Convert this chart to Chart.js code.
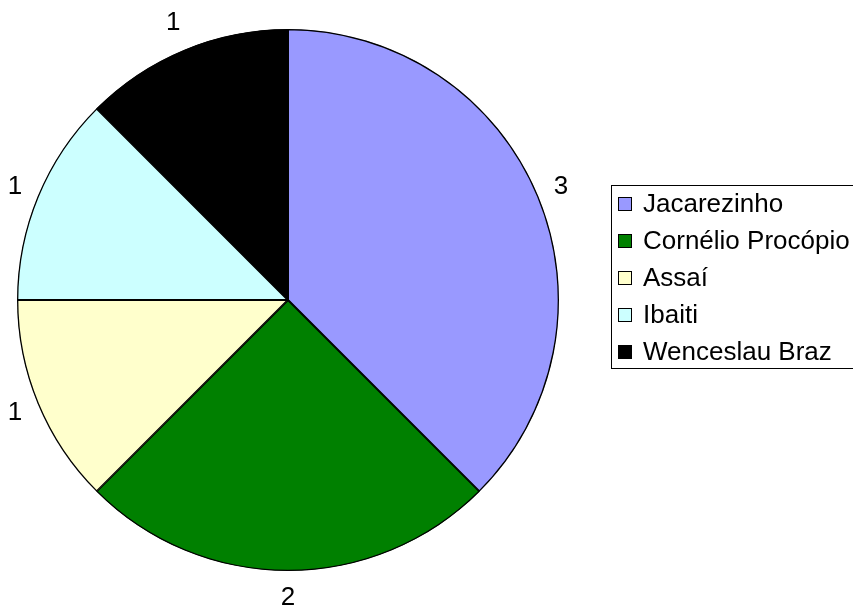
<!DOCTYPE html>
<html>
<head>
<meta charset="utf-8">
<script src="https://cdn.jsdelivr.net/npm/chart.js@4"></script>
<style>
html,body{margin:0;padding:0;background:#fff;}
canvas{display:block;}
</style>
</head>
<body>
<canvas id="c" width="853" height="612"></canvas>
<script>
const categories = ["Jacarezinho", "Cornélio Procópio", "Assaí", "Ibaiti", "Wenceslau Braz"];
const values = [3, 2, 1, 1, 1];
const colors = ["#9999FF", "#008000", "#FFFFCC", "#CCFFFF", "#000000"];

const FONT = '26px "Liberation Sans", Arial, sans-serif';

const outsideLabels = {
  id: 'outsideLabels',
  afterDatasetsDraw(chart) {
    const ctx = chart.ctx;
    const meta = chart.getDatasetMeta(0);
    ctx.save();
    ctx.font = FONT;
    ctx.fillStyle = '#000';
    ctx.textAlign = 'center';
    ctx.textBaseline = 'middle';
    meta.data.forEach((arc, i) => {
      const p = arc.getProps(['x','y','startAngle','endAngle','outerRadius'], true);
      const mid = (p.startAngle + p.endAngle) / 2;
      const txt = String(values[i]);
      const w = ctx.measureText(txt).width;
      const h = 30;
      const c = Math.cos(mid), s = Math.sin(mid);
      const d = p.outerRadius + 12 + Math.abs(c) * w / 2 + Math.abs(s) * h / 2;
      ctx.fillText(txt, p.x + c * d, p.y + s * d);
    });
    ctx.restore();
  }
};

const boxLegend = {
  id: 'boxLegend',
  afterDraw(chart) {
    const ctx = chart.ctx;
    ctx.save();
    const left = 611.5, top = 185.5, bottom = 368.5;
    ctx.strokeStyle = '#000';
    ctx.lineWidth = 1;
    ctx.strokeRect(left, top, 260, bottom - top);
    ctx.font = FONT;
    ctx.textBaseline = 'middle';
    ctx.textAlign = 'left';
    categories.forEach((name, i) => {
      const cy = 204 + i * 37;
      ctx.fillStyle = colors[i];
      ctx.fillRect(618, cy - 7, 14, 14);
      ctx.strokeStyle = '#000';
      ctx.strokeRect(618.5, cy - 6.5, 13, 13);
      ctx.fillStyle = '#000';
      ctx.fillText(name, 643, cy + 1);
    });
    ctx.restore();
  }
};

new Chart(document.getElementById('c'), {
  type: 'pie',
  data: {
    labels: categories,
    datasets: [{
      data: values,
      backgroundColor: colors,
      borderColor: '#000',
      borderWidth: 1,
      borderAlign: 'inner'
    }]
  },
  options: {
    responsive: false,
    animation: false,
    layout: { padding: { left: 17, top: 29, right: 294, bottom: 41 } },
    plugins: {
      legend: { display: false },
      tooltip: { enabled: false }
    }
  },
  plugins: [outsideLabels, boxLegend]
});
</script>
</body>
</html>
